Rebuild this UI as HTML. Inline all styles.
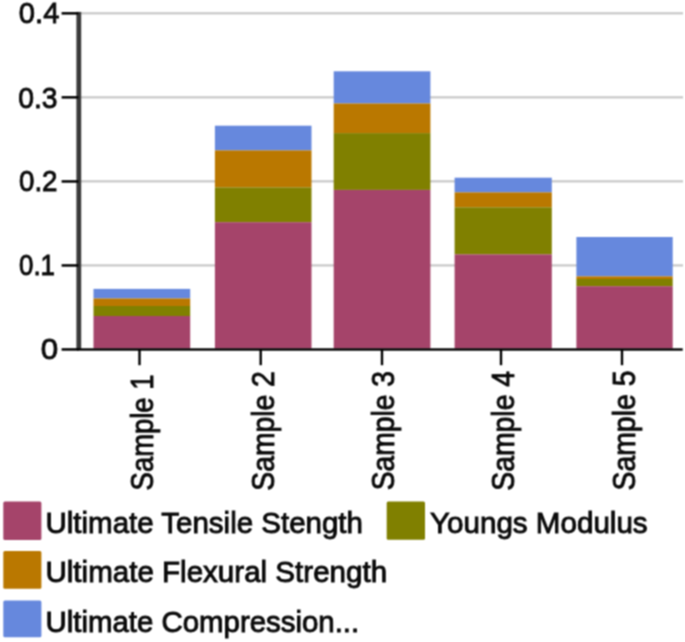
<!DOCTYPE html>
<html><head><meta charset="utf-8"><style>
html,body{margin:0;padding:0;background:#fff;width:685px;height:642px;overflow:hidden}
svg{display:block;}
text{font-family:"Liberation Sans",sans-serif;fill:#0a0a0a;stroke:#0a0a0a;stroke-width:0.9px}
</style></head><body>
<svg width="685" height="642" viewBox="0 0 685 642">
<defs><filter id="bl" filterUnits="userSpaceOnUse" x="0" y="0" width="685" height="642" color-interpolation-filters="sRGB"><feConvolveMatrix order="3" kernelMatrix="1 2 1 2 4 2 1 2 1" edgeMode="duplicate"/></filter></defs><g filter="url(#bl)">
<rect x="0" y="0" width="685" height="642" fill="#fff"/>
<rect x="81" y="12.20" width="602" height="2.2" fill="#c8c8c8"/>
<rect x="81" y="96.25" width="602" height="2.2" fill="#c8c8c8"/>
<rect x="81" y="180.25" width="602" height="2.2" fill="#c8c8c8"/>
<rect x="81" y="264.30" width="602" height="2.2" fill="#c8c8c8"/>
<rect x="93.5" y="288.9" width="96.7" height="9.6" fill="#6688DD"/>
<rect x="93.5" y="298.5" width="96.7" height="7.5" fill="#BA7800"/>
<rect x="93.5" y="306.0" width="96.7" height="10.0" fill="#808000"/>
<rect x="93.5" y="316.0" width="96.7" height="32.6" fill="#A5446A"/>
<rect x="214.9" y="125.7" width="96.6" height="24.7" fill="#6688DD"/>
<rect x="214.9" y="150.4" width="96.6" height="37.0" fill="#BA7800"/>
<rect x="214.9" y="187.4" width="96.6" height="34.8" fill="#808000"/>
<rect x="214.9" y="222.2" width="96.6" height="126.4" fill="#A5446A"/>
<rect x="333.7" y="71.3" width="96.7" height="32.2" fill="#6688DD"/>
<rect x="333.7" y="103.5" width="96.7" height="29.6" fill="#BA7800"/>
<rect x="333.7" y="133.1" width="96.7" height="56.8" fill="#808000"/>
<rect x="333.7" y="189.9" width="96.7" height="158.7" fill="#A5446A"/>
<rect x="454.6" y="177.7" width="97.2" height="14.7" fill="#6688DD"/>
<rect x="454.6" y="192.4" width="97.2" height="14.9" fill="#BA7800"/>
<rect x="454.6" y="207.3" width="97.2" height="47.1" fill="#808000"/>
<rect x="454.6" y="254.4" width="97.2" height="94.2" fill="#A5446A"/>
<rect x="576.4" y="237.0" width="96.3" height="39.4" fill="#6688DD"/>
<rect x="576.4" y="276.4" width="96.3" height="2.6" fill="#BA7800"/>
<rect x="576.4" y="279.0" width="96.3" height="7.2" fill="#808000"/>
<rect x="576.4" y="286.2" width="96.3" height="62.4" fill="#A5446A"/>
<rect x="76.4" y="11.9" width="4.8" height="338" fill="#3a3a3a"/>
<rect x="61.6" y="12.1" width="17" height="2.5" fill="#000"/>
<rect x="61.6" y="96.1" width="17" height="2.5" fill="#000"/>
<rect x="61.6" y="180.2" width="17" height="2.5" fill="#000"/>
<rect x="61.6" y="264.2" width="17" height="2.5" fill="#000"/>
<rect x="61.6" y="348.2" width="17" height="2.5" fill="#000"/>
<rect x="77" y="348.3" width="605.7" height="2.4" fill="#000"/>
<rect x="138.3" y="349" width="2.4" height="16.2" fill="#000"/>
<rect x="259.5" y="349" width="2.4" height="16.2" fill="#000"/>
<rect x="380.8" y="349" width="2.4" height="16.2" fill="#000"/>
<rect x="499.8" y="349" width="2.4" height="16.2" fill="#000"/>
<rect x="620.8" y="349" width="2.4" height="16.2" fill="#000"/>
<rect x="3.3" y="501.5" width="38.10" height="38.40" rx="1.5" fill="#A5446A"/>
<rect x="386.7" y="501.5" width="38.30" height="38.30" rx="1.5" fill="#808000"/>
<rect x="3.3" y="551.1" width="38.10" height="37.70" rx="1.5" fill="#BA7800"/>
<rect x="3.3" y="600.6" width="38.10" height="36.70" rx="1.5" fill="#6688DD"/>
<text style="font-size:29.8px" transform="translate(18.85,22.70) scale(0.9773,1)">0.4</text>
<text style="font-size:29.8px" transform="translate(18.28,107.56) scale(0.9495,1)">0.3</text>
<text style="font-size:29.8px" transform="translate(18.96,191.27) scale(0.9312,1)">0.2</text>
<text style="font-size:29.8px" transform="translate(19.01,275.48) scale(0.8691,1)">0.1</text>
<text style="font-size:29.8px" transform="translate(40.85,359.28) scale(1.0499,1)">0</text>
<text style="font-size:31.0px" transform="translate(152.50,490.43) rotate(-90) scale(0.8861,1)">Sample 1</text>
<text style="font-size:31.0px" transform="translate(273.70,490.64) rotate(-90) scale(0.9119,1)">Sample 2</text>
<text style="font-size:31.0px" transform="translate(393.70,490.22) rotate(-90) scale(0.9111,1)">Sample 3</text>
<text style="font-size:31.0px" transform="translate(513.70,490.69) rotate(-90) scale(0.9148,1)">Sample 4</text>
<text style="font-size:31.0px" transform="translate(635.20,490.53) rotate(-90) scale(0.9168,1)">Sample 5</text>
<text style="font-size:29.2px" transform="translate(45.46,532.70) scale(1.0103,1)">Ultimate Tensile Stength</text>
<text style="font-size:29.2px" transform="translate(430.08,532.70) scale(1.0132,1)">Youngs Modulus</text>
<text style="font-size:29.2px" transform="translate(45.44,582.10) scale(1.0123,1)">Ultimate Flexural Strength</text>
<text style="font-size:29.2px" transform="translate(45.49,631.80) scale(1.0072,1)">Ultimate Compression...</text>
</g>
</svg>
</body></html>
